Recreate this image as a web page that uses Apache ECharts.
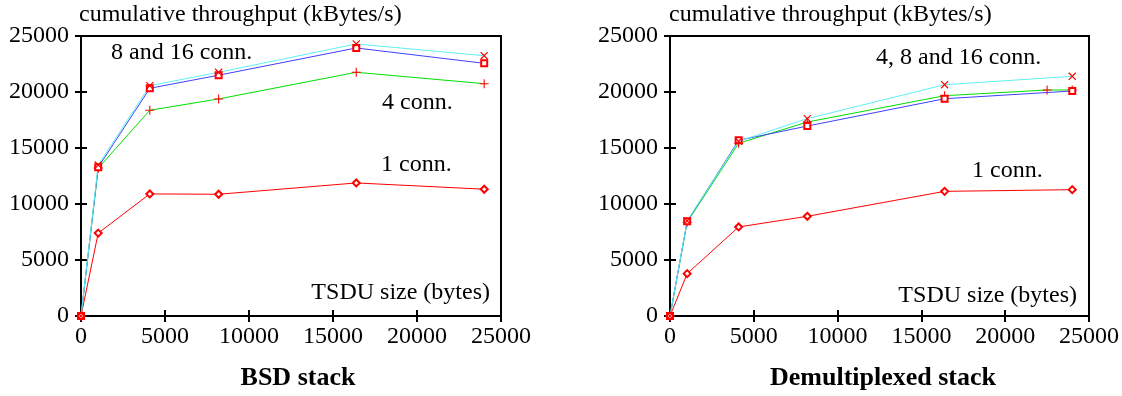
<!DOCTYPE html>
<html>
<head>
<meta charset="utf-8">
<script src="https://cdn.jsdelivr.net/npm/echarts@6/dist/echarts.min.js"></script>
<style>
  html, body { margin: 0; padding: 0; background: #fff; }
  #chart { width: 1122px; height: 396px; }
</style>
</head>
<body>
<div id="chart"></div>
<script>
// TSDU sizes (bytes)
var sizes = [0, 1024, 4096, 8192, 16384, 24000];
var sizesDemux4 = [0, 1024, 4096, 8192, 16384, 22500, 24000];

// BSD stack, cumulative throughput (kBytes/s)
var bsd1 = [0, 7400, 10900, 10870, 11880, 11320];
var bsd4 = [0, 13200, 18370, 19380, 21760, 20740];
var bsd8 = [0, 13280, 20330, 21500, 23930, 22560];
var bsd16 = [0, 13480, 20560, 21760, 24290, 23240];

// Demultiplexed stack
var dem1 = [0, 3780, 7950, 8900, 11130, 11280];
var dem4 = [0, 8370, 15420, 17320, 19670, 20180, 20180];
var dem8 = [0, 8450, 15690, 16960, 19400, 20090];
var dem16 = [0, 8500, 15600, 17620, 20650, 21400];

function pairs(xs, ys) {
  return ys.map(function (v, i) { return [xs[i], v]; });
}

var font = "Liberation Serif";
var plusPath = "path://M4.4,0H5.6V10H4.4Z M0,4.4H10V5.6H0Z";

var chart = echarts.init(document.getElementById("chart"));

var grids = [
  { left: 81, top: 36, width: 420, height: 280, show: true, borderColor: "#000", borderWidth: 2, backgroundColor: "transparent" },
  { left: 670, top: 36, width: 420, height: 280, show: true, borderColor: "#000", borderWidth: 2, backgroundColor: "transparent" }
];

function axis(g, pos, labels, margin) {
  return {
    type: "value", gridIndex: g, position: pos, min: 0, max: 25000, interval: 5000,
    axisLine: { show: false },
    axisTick: { show: true, inside: true, length: 6, lineStyle: { color: "#000", width: 2 } },
    splitLine: { show: false },
    axisLabel: {
      show: labels, margin: margin, color: "#000", fontFamily: font, fontSize: 24,
      formatter: function (v) { return String(v); }
    }
  };
}

function line(g, xs, ys, color, symbol, rotate, size) {
  return {
    type: "line", xAxisIndex: g * 2, yAxisIndex: g * 2,
    data: pairs(xs, ys),
    symbol: symbol, symbolSize: size, symbolRotate: rotate || 0,
    showSymbol: true,
    lineStyle: { color: color, width: 1 },
    itemStyle: { color: "#f00", borderWidth: 1 },
    z: 3
  };
}

// plain text placed at (x, y) = anchor point, top of the text box
function label(x, y, text, align, bold) {
  return {
    type: "text", x: x, y: y,
    style: {
      text: text, fill: "#000",
      font: (bold ? "bold 26px " : "24px ") + font,
      align: align || "left",
      verticalAlign: "top"
    }
  };
}

var option = {
  animation: false,
  grid: grids,
  xAxis: [axis(0, "bottom", true, 9), axis(0, "top", false, 8), axis(1, "bottom", true, 9), axis(1, "top", false, 8)],
  yAxis: [axis(0, "left", true, 12), axis(0, "right", false, 8), axis(1, "left", true, 12), axis(1, "right", false, 8)],
  graphic: [
    label(79, 3, "cumulative throughput (kBytes/s)"),
    label(669, 3, "cumulative throughput (kBytes/s)"),
    label(111, 41, "8 and 16 conn."),
    label(382, 91, "4 conn."),
    label(381, 153, "1 conn."),
    label(490, 281, "TSDU size (bytes)", "right"),
    label(876, 46, "4, 8 and 16 conn."),
    label(972, 159, "1 conn."),
    label(1077, 284, "TSDU size (bytes)", "right"),
    label(298, 365, "BSD stack", "center", true),
    label(883, 365, "Demultiplexed stack", "center", true)
  ],
  series: [
    line(0, sizes, bsd1, "#f00", "emptyDiamond", 0, 7),
    line(0, sizes, bsd4, "#00dd00", plusPath, 0, 9),
    line(0, sizes, bsd8, "#4040ff", "emptyRect", 0, 6),
    line(0, sizes, bsd16, "#60f0f0", plusPath, 45, 10),
    line(1, sizes, dem1, "#f00", "emptyDiamond", 0, 7),
    line(1, sizesDemux4, dem4, "#00dd00", plusPath, 0, 9),
    line(1, sizes, dem8, "#4040ff", "emptyRect", 0, 6),
    line(1, sizes, dem16, "#60f0f0", plusPath, 45, 10)
  ]
};

chart.setOption(option);
</script>
</body>
</html>
